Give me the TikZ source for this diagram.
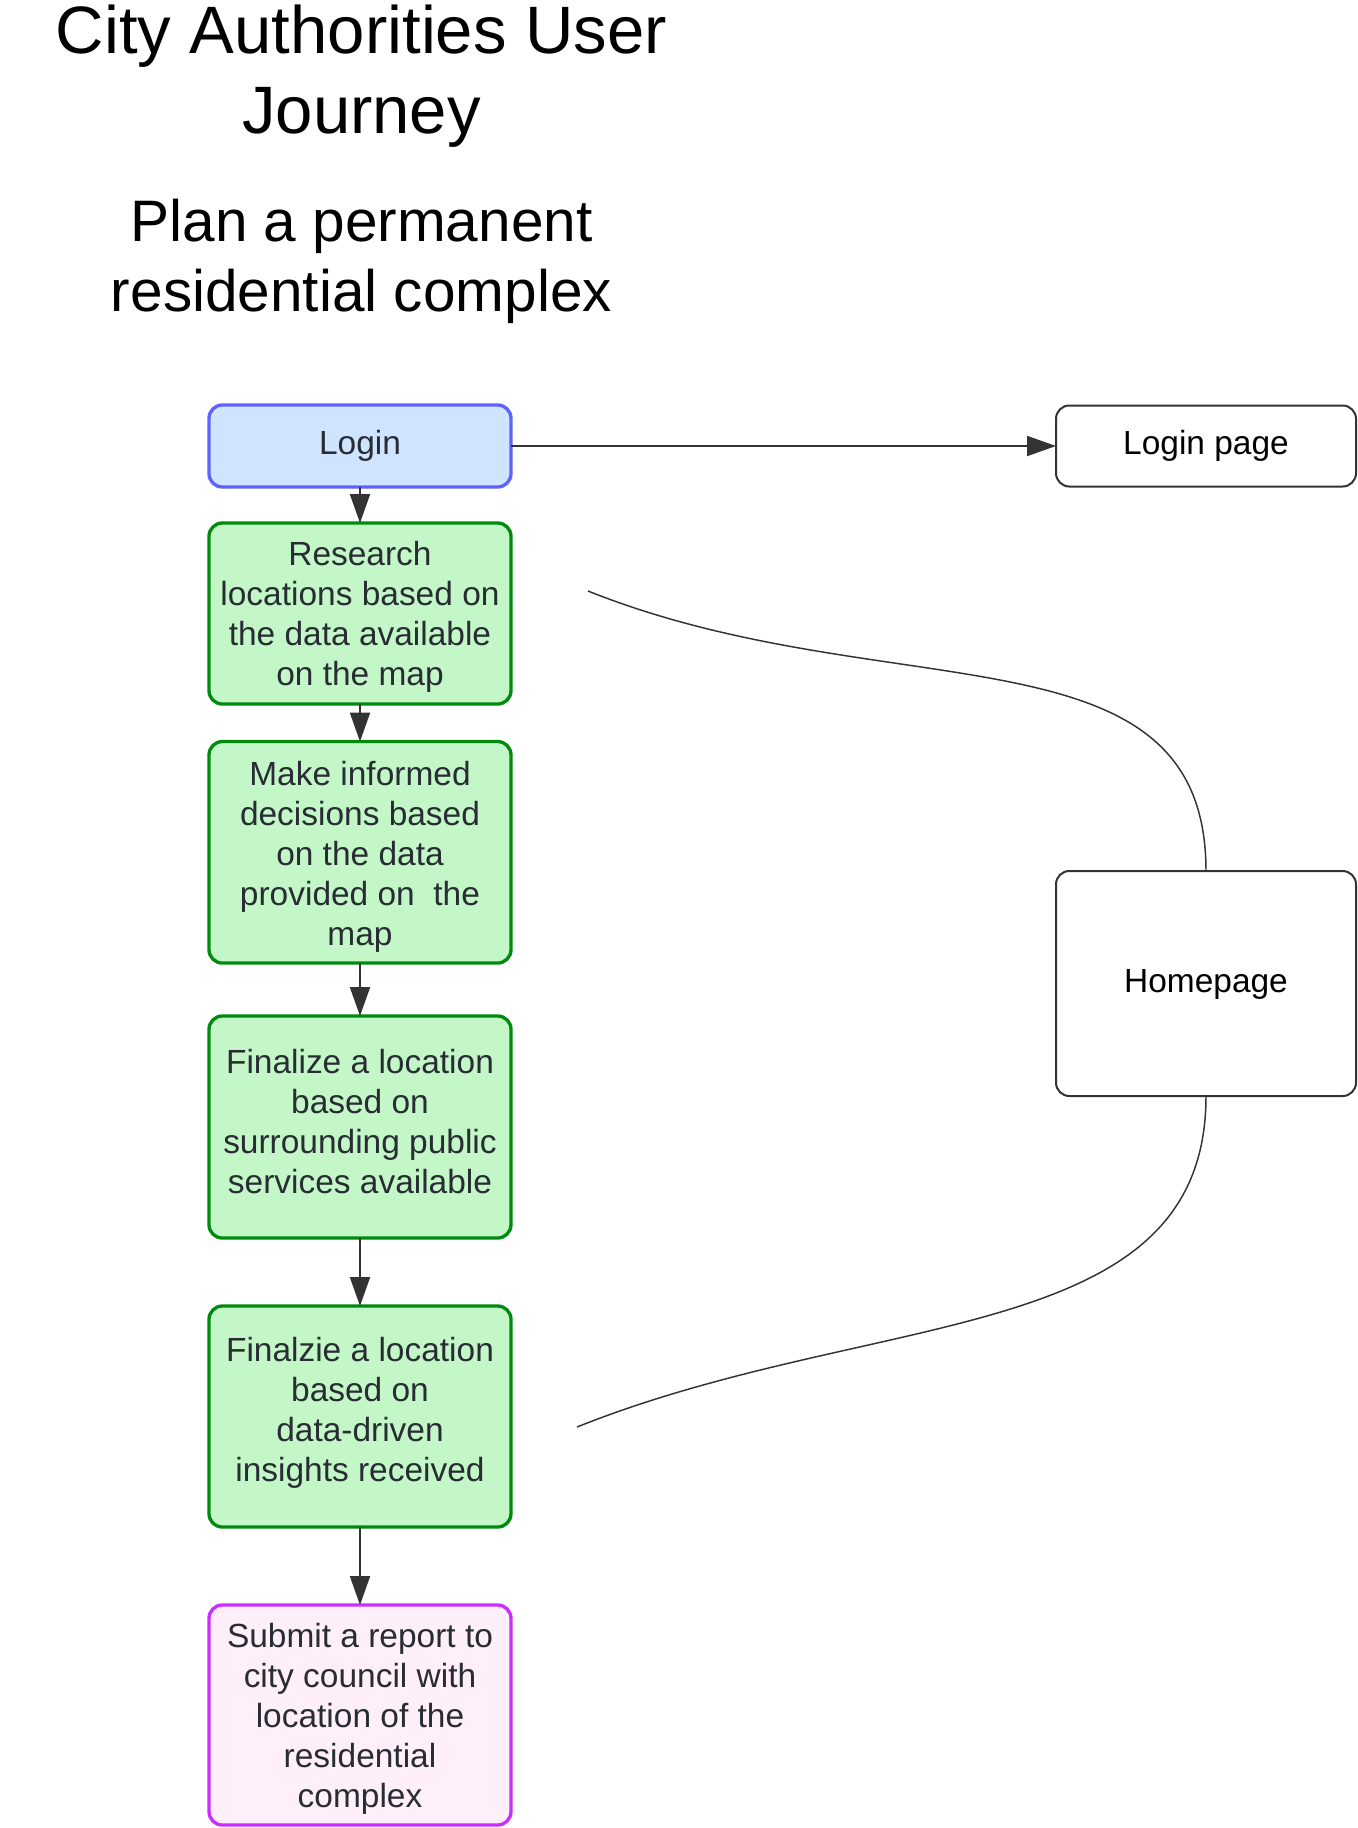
\documentclass[tikz,border=0pt]{standalone}
\usepackage{fontspec}
\setmainfont{Liberation Sans}
\usetikzlibrary{arrows.meta}
\definecolor{loginborder}{HTML}{6161FF}
\definecolor{loginfill}{HTML}{CFE4FF}
\definecolor{greenborder}{HTML}{008A0E}
\definecolor{greenfill}{HTML}{C3F7C8}
\definecolor{subborder}{HTML}{C92EFF}
\definecolor{subfill}{HTML}{FFEFFA}
\definecolor{txtcol}{HTML}{282C33}
\definecolor{linecol}{HTML}{333333}
\newcommand\bs{\rule[-6.3pt]{0pt}{30pt}}
\newcommand\ts{\rule[-14.25pt]{0pt}{60pt}}
\newcommand\sts{\rule[-12pt]{0pt}{52.5pt}}
\tikzset{
  box/.style={rectangle, rounded corners=10pt, inner sep=0pt, outer sep=0pt, minimum width=226.5pt},
  loginbox/.style={box, draw=loginborder, fill=loginfill, line width=2.5pt},
  greenbox/.style={box, draw=greenborder, fill=greenfill, line width=2.5pt},
  submitbox/.style={box, draw=subborder, fill=subfill, line width=2.5pt},
  whitebox/.style={box, minimum width=225pt, draw=linecol, fill=white, line width=1.5pt},
  btext/.style={inner sep=0pt, outer sep=0pt, align=center, text=txtcol, font=\fontsize{25.1pt}{30pt}\selectfont},
  wtext/.style={btext, text=black},
  titletext/.style={inner sep=0pt, align=center, text=black, font=\fontsize{50.3pt}{60pt}\selectfont},
  subtext/.style={inner sep=0pt, align=center, text=black, font=\fontsize{43.9pt}{52.5pt}\selectfont},
  arr/.style={draw=linecol, line width=1.5pt, -{Triangle[length=21.75pt,width=15pt]}},
  curveline/.style={draw=linecol, line width=1.1pt},
}
\begin{document}
\begin{tikzpicture}[x=0.75pt, y=-0.75pt]
\useasboundingbox (0,0) rectangle (1358,1828);

% titles
\node[titletext] (title) at (361.5,72.3) {\ts City Authorities User\\\ts Journey};
\node[subtext] (subtitle) at (361.5,257.7) {\sts Plan a permanent\\\sts residential complex};

% boxes
\node[loginbox, minimum height=61.5pt] (login) at (360,446) {};
\node[btext] (login-t) at (360,442.4) {\bs Login};

\node[greenbox, minimum height=135.75pt] (research) at (360,613.5) {};
\node[btext] (research-t) at (360,613.7) {\bs Research\\\bs locations based on\\\bs the data available\\\bs on the map};

\node[greenbox, minimum height=166.1pt] (make) at (360,852.3) {};
\node[btext] (make-t) at (360,853.4) {\bs Make informed\\\bs decisions based\\\bs on the data\\\bs provided on~ the\\\bs map};

\node[greenbox, minimum height=166.5pt] (final1) at (360,1127) {};
\node[btext] (final1-t) at (360,1121.4) {\bs Finalize a location\\\bs based on\\\bs surrounding public\\\bs services available};

\node[greenbox, minimum height=165.75pt] (final2) at (360,1416.5) {};
\node[btext] (final2-t) at (360,1410) {\bs Finalzie a location\\\bs based on\\\bs data-driven\\\bs insights received};

\node[submitbox, minimum height=165pt] (submit) at (360,1715) {};
\node[btext] (submit-t) at (360,1715.7) {\bs Submit a report to\\\bs city council with\\\bs location of the\\\bs residential\\\bs complex};

\node[whitebox, minimum height=60.75pt] (loginpage) at (1206,446) {};
\node[wtext] (loginpage-t) at (1206,442.4) {\bs Login page};

\node[whitebox, minimum height=168.75pt] (home) at (1206,983.5) {};
\node[wtext] (home-t) at (1206,980.4) {\bs Homepage};

% connectors
\draw[arr] (login.east) -- (loginpage.west);
\draw[arr] (login.south) -- (research.north);
\draw[arr] (research.south) -- (make.north);
\draw[arr] (make.south) -- (final1.north);
\draw[arr] (final1.south) -- (final2.north);
\draw[arr] (final2.south) -- (submit.north);

\coordinate (c1) at (588,591);
\coordinate (c2) at (577,1427);
\draw[curveline] (c1) .. controls (888,711) and (1206,620) .. (home.north);
\draw[curveline] (home.south) .. controls (1206,1348) and (877,1307) .. (c2);
\end{tikzpicture}
\end{document}
